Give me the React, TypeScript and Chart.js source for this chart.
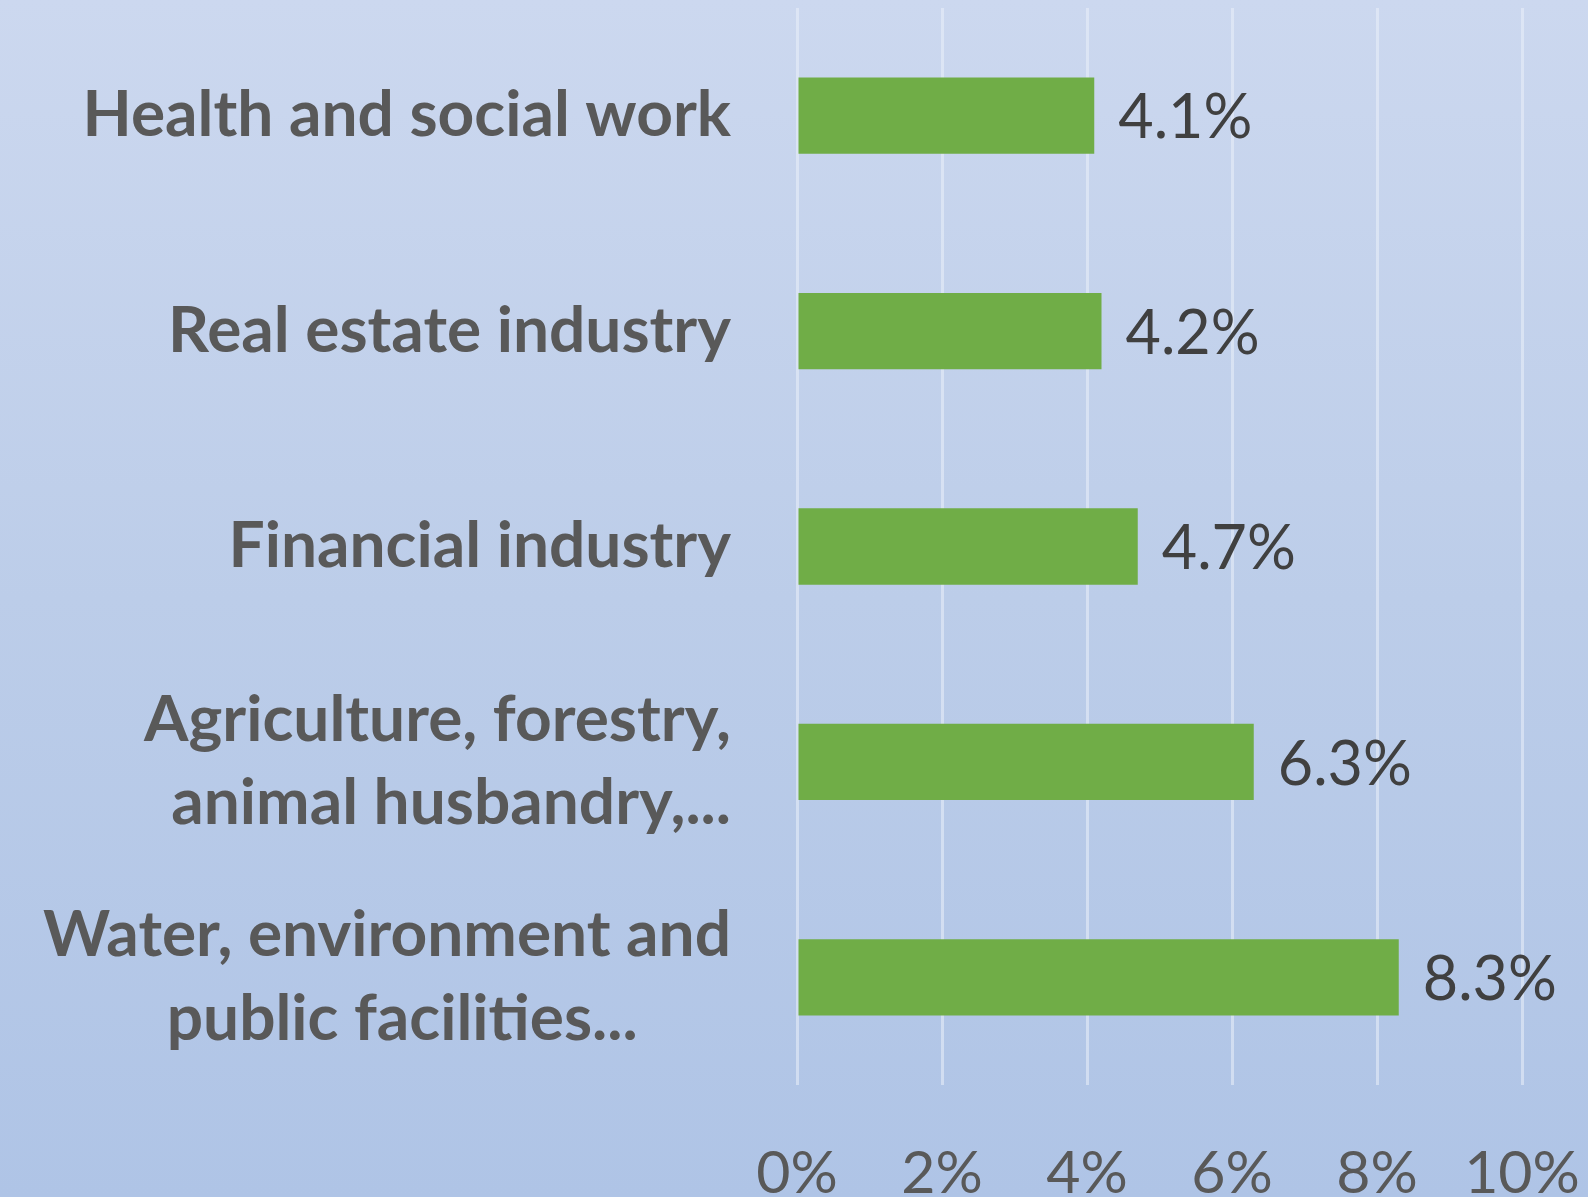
import React, { useEffect, useRef } from "react";
import { Chart, registerables } from "chart.js";

Chart.register(...registerables);

const categories: string[][] = [
  ["Health and social work"],
  ["Real estate industry"],
  ["Financial industry"],
  ["Agriculture, forestry,", "animal husbandry,..."],
  ["Water, environment and", "public facilities...      "],
];
const values: number[] = [4.1, 4.2, 4.7, 6.3, 8.3];
const xMin = 0;
const xMax = 10;
const xStep = 2;

const FONT = "Lato, 'Noto Sans', sans-serif";

const valueLabels = {
  id: "valueLabels",
  afterDatasetsDraw(chart: any) {
    const ctx = chart.ctx;
    const meta = chart.getDatasetMeta(0);
    ctx.save();
    ctx.font = `400 61px ${FONT}`;
    ctx.fillStyle = "#404040";
    ctx.textAlign = "left";
    ctx.textBaseline = "middle";
    meta.data.forEach((bar: any, i: number) => {
      const { x, y } = bar.getProps(["x", "y"], true);
      ctx.fillText(values[i].toFixed(1) + "%", x + 24, y + 3);
    });
    ctx.restore();
  },
};

const zeroPadding = (scale: any) => {
  scale.paddingTop = 0;
  scale.paddingBottom = 0;
  scale.paddingLeft = 0;
  scale.paddingRight = 0;
};

export default function App() {
  const ref = useRef<HTMLCanvasElement | null>(null);
  useEffect(() => {
    document.body.style.margin = "0";
    const canvas = ref.current!;
    const chart = new Chart(canvas, {
      type: "bar",
      data: {
        labels: categories,
        datasets: [
          {
            data: values,
            backgroundColor: "#70ad47",
            borderWidth: 0,
            barPercentage: 0.354,
            categoryPercentage: 1,
          },
        ],
      },
      options: {
        indexAxis: "y",
        animation: false,
        responsive: false,
        devicePixelRatio: 1,
        layout: { padding: { top: 8, right: 66, bottom: 0, left: 0 } },
        plugins: {
          legend: { display: false },
          tooltip: { enabled: false },
        },
        scales: {
          x: {
            min: xMin,
            max: xMax,
            border: { display: false },
            grid: {
              color: "rgba(235,240,250,0.55)",
              lineWidth: 3,
              drawTicks: false,
            },
            ticks: {
              stepSize: xStep,
              padding: 54,
              color: "#595959",
              font: { family: FONT, size: 59, weight: "normal" },
              callback: (v: any) => v + "%",
              maxRotation: 0,
            },
            afterFit: (scale: any) => {
              scale.height = 112;
              zeroPadding(scale);
            },
          },
          y: {
            border: { display: false },
            grid: { display: false, drawTicks: false },
            ticks: {
              padding: 66,
              color: "#595959",
              font: { family: FONT, size: 64, weight: "bold", lineHeight: 1.3 },
            },
            afterFit: (scale: any) => {
              scale.width = 797;
              zeroPadding(scale);
            },
          },
        },
      } as any,
      plugins: [valueLabels],
    });
    return () => chart.destroy();
  }, []);

  return (
    <div
      style={{
        position: "fixed",
        left: 0,
        top: 0,
        width: 1588,
        height: 1197,
        background: "linear-gradient(180deg, #ccd8ef 0%, #bccde9 50%, #afc4e6 100%)",
      }}
    >
      <canvas ref={ref} width={1588} height={1197} style={{ display: "block" }} />
    </div>
  );
}
